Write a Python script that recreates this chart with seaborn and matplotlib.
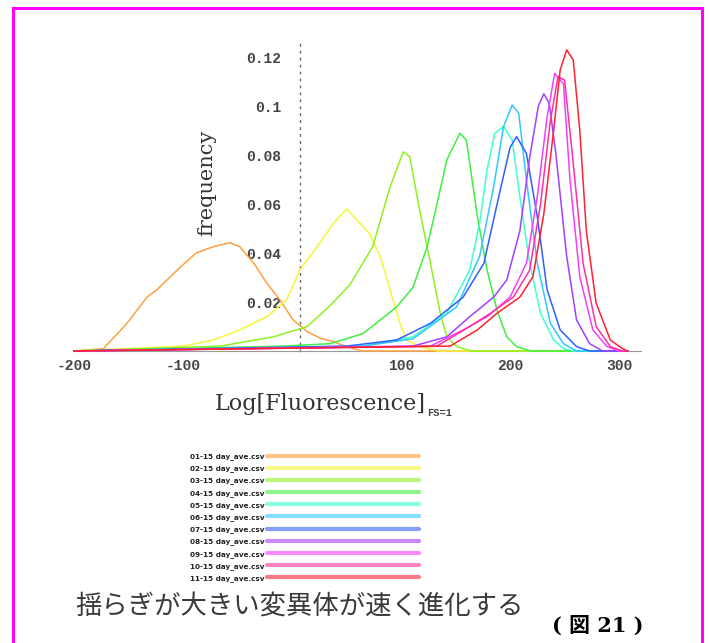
import numpy as np
import pandas as pd
import matplotlib
matplotlib.use("Agg")
import matplotlib.pyplot as plt
from matplotlib.patches import Rectangle
from matplotlib.ticker import FixedLocator, MultipleLocator
import seaborn as sns

# legend labels (tiny / unreadable in the source)
series_names = ['01-15 day_ave.csv', '02-15 day_ave.csv', '03-15 day_ave.csv',
                '04-15 day_ave.csv', '05-15 day_ave.csv', '06-15 day_ave.csv',
                '07-15 day_ave.csv', '08-15 day_ave.csv', '09-15 day_ave.csv',
                '10-15 day_ave.csv', '11-15 day_ave.csv']
colors = ['#FFA040', '#F5F53A', '#90F020', '#40F040', '#40FFD0', '#30C8FF',
          '#2F5FFF', '#A040FF', '#F040FF', '#FF30A0', '#FF2030']

# curves (x = Log[Fluorescence], y = frequency)
orange_x = [-200, -173, -152, -133, -124, -103, -88, -72, -57, -48, -35, -23, -11, 1, 14, 26, 38, 50, 64, 308]
orange_y = [0, 0.001, 0.011, 0.022, 0.025, 0.034, 0.040, 0.0426, 0.0442, 0.0426, 0.0358, 0.0276, 0.0208, 0.0127, 0.0079, 0.0052, 0.0038, 0.0018, 0, 0]

yellow_x = [-200, -100, -72, -48, -23, -5, 7, 23, 38, 50, 71, 81, 90, 99, 105, 117, 134, 308]
yellow_y = [0, 0.002, 0.0045, 0.0086, 0.014, 0.0208, 0.033, 0.0426, 0.052, 0.058, 0.048, 0.0385, 0.025, 0.0113, 0.0045, 0.0018, 0, 0]

lime_x = [-200, -66, -17, 14, 36, 53, 74, 90, 102, 108, 117, 127, 136, 142, 151, 164, 308]
lime_y = [0, 0.002, 0.0058, 0.010, 0.019, 0.027, 0.0426, 0.067, 0.0813, 0.0793, 0.0576, 0.0358, 0.0154, 0.0058, 0.0018, 0, 0]

green_x = [-200, -8, 35, 65, 96, 111, 124, 133, 142, 154, 160, 170, 179, 188, 197, 206, 219, 308]
green_y = [0, 0.002, 0.003, 0.0071, 0.018, 0.026, 0.0426, 0.060, 0.078, 0.0889, 0.086, 0.055, 0.033, 0.0167, 0.0058, 0.0018, 0, 0]

aqua_x = [-200, 65, 111, 142, 163, 172, 179, 186, 194, 202, 209, 218, 228, 240, 249, 258, 308]
aqua_y = [0, 0.002, 0.0058, 0.0154, 0.033, 0.052, 0.074, 0.0889, 0.0916, 0.086, 0.063, 0.0358, 0.0154, 0.0045, 0.001, 0, 0]

sky_x = [-200, 65, 111, 151, 172, 185, 194, 202, 208, 215, 225, 237, 249, 261, 308]
sky_y = [0, 0.002, 0.005, 0.018, 0.0385, 0.067, 0.0916, 0.1004, 0.097, 0.0698, 0.0358, 0.0113, 0.003, 0, 0]

blue_x = [-200, 50, 96, 127, 157, 176, 191, 200, 206, 215, 225, 234, 246, 261, 273, 308]
blue_y = [0, 0.002, 0.0045, 0.0113, 0.022, 0.0358, 0.0657, 0.083, 0.0875, 0.0807, 0.0548, 0.025, 0.0086, 0.0018, 0, 0]

purple_x = [-200, 111, 142, 163, 185, 197, 209, 218, 226, 231, 236, 242, 252, 261, 273, 285, 308]
purple_y = [0, 0.002, 0.0058, 0.014, 0.022, 0.029, 0.049, 0.079, 0.100, 0.105, 0.101, 0.0807, 0.0385, 0.0127, 0.003, 0, 0]

violet_x = [-200, 127, 157, 179, 200, 215, 225, 234, 241, 249, 255, 264, 276, 289, 300, 308]
violet_y = [0, 0.002, 0.0086, 0.014, 0.022, 0.0358, 0.063, 0.0956, 0.1133, 0.109, 0.0698, 0.0303, 0.0086, 0.0018, 0, 0]

deeppink_x = [-200, 133, 163, 182, 203, 218, 228, 237, 244, 250, 258, 267, 279, 292, 303, 308]
deeppink_y = [0, 0.002, 0.010, 0.0154, 0.022, 0.033, 0.060, 0.094, 0.112, 0.1106, 0.0766, 0.0358, 0.010, 0.0018, 0, 0]

red_x = [-200, 145, 170, 188, 209, 221, 231, 240, 246, 252, 258, 264, 270, 279, 292, 303, 308]
red_y = [0, 0.002, 0.0086, 0.0154, 0.022, 0.0303, 0.056, 0.090, 0.1147, 0.1229, 0.1188, 0.090, 0.049, 0.0195, 0.0045, 0.001, 0]

curves = [(orange_x, orange_y), (yellow_x, yellow_y), (lime_x, lime_y),
          (green_x, green_y), (aqua_x, aqua_y), (sky_x, sky_y),
          (blue_x, blue_y), (purple_x, purple_y), (violet_x, violet_y),
          (deeppink_x, deeppink_y), (red_x, red_y)]

frames = []
for name, (xs, ys) in zip(series_names, curves):
    frames.append(pd.DataFrame({'x': xs, 'freq': ys, 'series': name}))
df = pd.concat(frames, ignore_index=True)

x_ticks = [-200, -100, 100, 200, 300]
x_labels = ['-200', '-100', '100', '200', '300']
y_ticks = [0.02, 0.04, 0.06, 0.08, 0.1, 0.12]
y_labels = ['0.02', '0.04', '0.06', '0.08', '0.1', '0.12']

sns.set_style("white")
plt.rcParams['font.family'] = ['DejaVu Sans', 'Noto Sans CJK JP']

fig = plt.figure(figsize=(7.1, 6.43), dpi=100)
ax = fig.add_axes([0.1027, 0.4541, 0.7999, 0.4801])

sns.lineplot(data=df, x='x', y='freq', hue='series', hue_order=series_names,
             palette=colors, estimator=None, sort=False, lw=1.1,
             legend=False, ax=ax, zorder=3, clip_on=False)

ax.set_xlim(-201, 320)
ax.set_ylim(0, 0.126)
ax.set_xlabel('')
ax.set_ylabel('')

for s in ['top', 'right']:
    ax.spines[s].set_visible(False)
ax.spines['left'].set_position(('data', 7))
ax.spines['left'].set_linestyle((0, (1, 4)))
ax.spines['left'].set_color('#666666')
ax.spines['left'].set_linewidth(1.0)
ax.spines['bottom'].set_color('#999999')
ax.spines['bottom'].set_linewidth(0.8)

ax.xaxis.set_major_locator(FixedLocator(x_ticks))
ax.set_xticklabels(x_labels)
ax.xaxis.set_minor_locator(MultipleLocator(20))
ax.tick_params(axis='x', which='both', direction='in', length=3.5,
               color='#888888', width=0.8, pad=6)
ax.yaxis.set_major_locator(FixedLocator(y_ticks))
ax.set_yticklabels(y_labels)
ax.tick_params(axis='y', length=0, pad=13)
for lab in ax.get_xticklabels() + ax.get_yticklabels():
    lab.set_fontfamily('Liberation Mono')
    lab.set_fontsize(10.5)
    lab.set_color('#444444')
    lab.set_fontweight('bold')

fig.text(207 / 710, 1 - 183 / 643, 'frequency', rotation=90, ha='center',
         va='center', fontsize=15, family='DejaVu Serif', color='#333333')
fig.text(215 / 710, 1 - 410 / 643, 'Log[Fluorescence]', ha='left',
         va='baseline', fontsize=16, family='DejaVu Serif', color='#333333')
fig.text(427 / 710, 1 - 416 / 643, 'FS=1', ha='left', va='baseline',
         fontsize=7.5, family='Liberation Mono', fontweight='bold', color='#444444')

handles = []
for line in ax.lines[:len(series_names)]:
    h, = ax.plot([], [], color=line.get_color(), lw=3, alpha=0.6)
    handles.append(h)
leg = fig.legend(handles, series_names, loc='upper right',
                 bbox_to_anchor=(419 / 710, 1 - 453 / 643), frameon=False,
                 markerfirst=False, fontsize=5.2, handlelength=21,
                 handletextpad=0.4, labelspacing=0.72, borderpad=0,
                 borderaxespad=0)
for t in leg.get_texts():
    t.set_fontweight('bold')
    t.set_color('#222222')

fig.text(75 / 710, 1 - 606 / 643, '揺らぎが大きい変異体が速く進化する', ha='left',
         va='center', fontsize=19, family='Noto Sans CJK JP', color='#3a3a3a')
fig.text(552 / 710, 1 - 626 / 643, '( 図 21 )', ha='left', va='center',
         fontsize=15, family=['DejaVu Serif', 'Noto Sans CJK JP'],
         fontweight='bold', color='black')

fig.patches.append(Rectangle((13 / 710, -0.02), (702 - 13) / 710,
                             1 - 8 / 643 + 0.02, transform=fig.transFigure,
                             fill=False, edgecolor='#FF00FF', lw=2.2))

fig.savefig('out.png', dpi=100)
